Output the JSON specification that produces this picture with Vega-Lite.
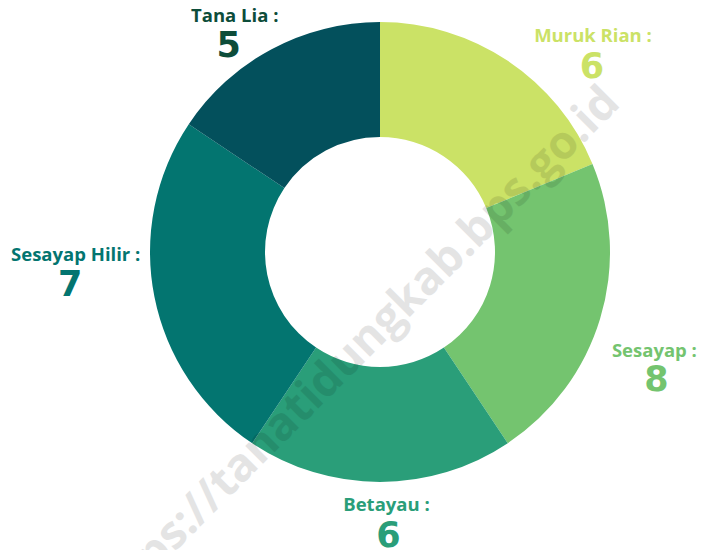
{
  "$schema": "https://vega.github.io/schema/vega-lite/v6.json",
  "width": 642,
  "height": 504,
  "autosize": "none",
  "padding": {"left": 59, "top": 0, "right": 0, "bottom": 46},
  "background": "white",
  "config": {
    "view": {"stroke": null},
    "style": {
      "nm": {"font": "Open Sans", "fontSize": 18.5, "fontWeight": "bold", "radius": 270, "align": "center", "baseline": "middle"},
      "val": {"font": "DejaVu Sans", "fontSize": 35, "fontWeight": "bold", "radius": 270, "align": "center", "baseline": "middle"}
    }
  },
  "layer": [
    {
      "data": {
        "values": [
          {"no": 1, "kecamatan": "Muruk Rian", "jumlah": 6, "irisan": 6},
          {"no": 2, "kecamatan": "Sesayap", "jumlah": 8, "irisan": 7},
          {"no": 3, "kecamatan": "Betayau", "jumlah": 6, "irisan": 6},
          {"no": 4, "kecamatan": "Sesayap Hilir", "jumlah": 7, "irisan": 8},
          {"no": 5, "kecamatan": "Tana Lia", "jumlah": 5, "irisan": 5}
        ]
      },
      "transform": [{"calculate": "datum.kecamatan + ' :'", "as": "label"}],
      "encoding": {
        "theta": {"field": "irisan", "type": "quantitative", "stack": true},
        "order": {"field": "no", "type": "quantitative", "sort": "ascending"},
        "color": {
          "field": "kecamatan",
          "type": "nominal",
          "scale": {
            "domain": ["Muruk Rian", "Sesayap", "Betayau", "Sesayap Hilir", "Tana Lia"],
            "range": ["#cbe266", "#74c46f", "#2a9e79", "#037570", "#03505c"]
          },
          "legend": null
        }
      },
      "layer": [
        {"mark": {"type": "arc", "innerRadius": 115, "outerRadius": 230}},
        {"mark": {"type": "text", "style": "nm", "dx": 63, "dy": 8.5},
         "encoding": {"text": {"condition": {"test": "datum.kecamatan === 'Muruk Rian'", "field": "label"}, "value": ""}}},
        {"mark": {"type": "text", "style": "val", "dx": 62, "dy": 39},
         "encoding": {"text": {"condition": {"test": "datum.kecamatan === 'Muruk Rian'", "field": "jumlah"}, "value": ""}}},
        {"mark": {"type": "text", "style": "nm", "dx": 16, "dy": 21},
         "encoding": {"text": {"condition": {"test": "datum.kecamatan === 'Sesayap'", "field": "label"}, "value": ""}}},
        {"mark": {"type": "text", "style": "val", "dx": 18, "dy": 50},
         "encoding": {"text": {"condition": {"test": "datum.kecamatan === 'Sesayap'", "field": "jumlah"}, "value": ""}}},
        {"mark": {"type": "text", "style": "nm", "dx": 6.5, "dy": -17.5},
         "encoding": {"text": {"condition": {"test": "datum.kecamatan === 'Betayau'", "field": "label"}, "value": ""}}},
        {"mark": {"type": "text", "style": "val", "dx": 8.5, "dy": 14},
         "encoding": {"text": {"condition": {"test": "datum.kecamatan === 'Betayau'", "field": "jumlah"}, "value": ""}}},
        {"mark": {"type": "text", "style": "nm", "dx": -39.5, "dy": -50},
         "encoding": {"text": {"condition": {"test": "datum.kecamatan === 'Sesayap Hilir'", "field": "label"}, "value": ""}}},
        {"mark": {"type": "text", "style": "val", "dx": -45, "dy": -20},
         "encoding": {"text": {"condition": {"test": "datum.kecamatan === 'Sesayap Hilir'", "field": "jumlah"}, "value": ""}}},
        {"mark": {"type": "text", "style": "nm", "dx": -18, "dy": 2},
         "encoding": {"color": {"value": "#0d4d3a"}, "text": {"condition": {"test": "datum.kecamatan === 'Tana Lia'", "field": "label"}, "value": ""}}},
        {"mark": {"type": "text", "style": "val", "dx": -24, "dy": 32},
         "encoding": {"color": {"value": "#0d4d3a"}, "text": {"condition": {"test": "datum.kecamatan === 'Tana Lia'", "field": "jumlah"}, "value": ""}}}
      ]
    },
    {
      "data": {"values": [{"t": "https://tanatidungkab.bps.go.id"}]},
      "mark": {"type": "text", "angle": -45, "dx": -91, "dy": 53, "font": "Open Sans", "fontSize": 46, "fontWeight": "bold", "fill": "#000000", "opacity": 0.1, "align": "center", "baseline": "middle"},
      "encoding": {"text": {"field": "t"}}
    }
  ]
}
